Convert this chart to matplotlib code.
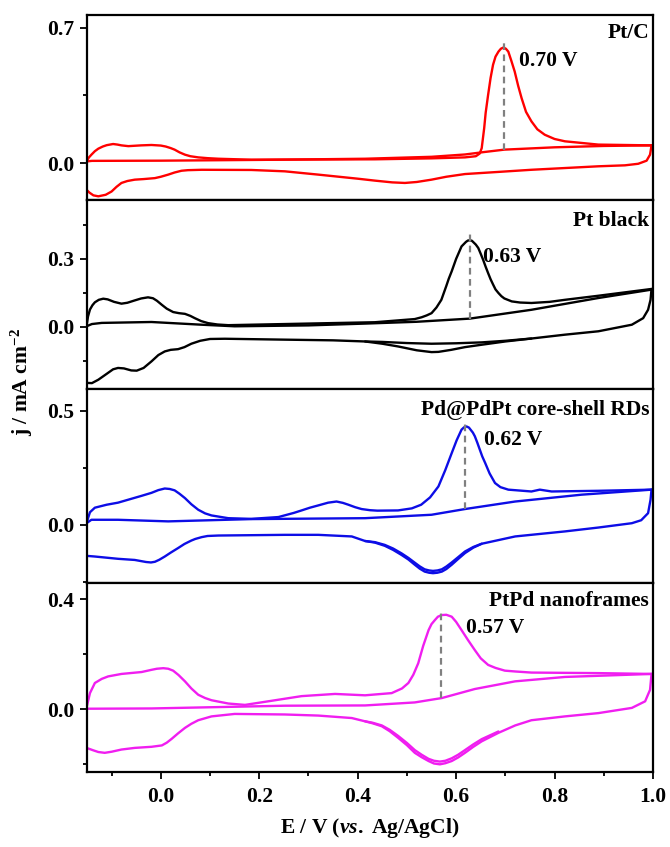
import matplotlib
matplotlib.use("Agg")
import matplotlib.pyplot as plt
from matplotlib.ticker import FixedLocator

plt.rcParams['font.family'] = ['Liberation Serif', 'DejaVu Serif']
plt.rcParams['font.weight'] = 'bold'
plt.rcParams['mathtext.fontset'] = 'custom'
plt.rcParams['mathtext.rm'] = 'Liberation Serif:bold'
plt.rcParams['mathtext.bf'] = 'Liberation Serif:bold'
plt.rcParams['mathtext.it'] = 'Liberation Serif:italic:bold'
plt.rcParams['mathtext.default'] = 'bf'

# ---------------- Data (E in V vs Ag/AgCl, j in mA cm^-2) ----------------
# Panel 1: Pt/C
ptc_fwd1_E = [-0.151, -0.146, -0.141, -0.134, -0.127, -0.118, -0.110, -0.097, -0.088, -0.080, -0.066, -0.040, -0.019, 0.000, 0.010, 0.020, 0.028, 0.038, 0.049, 0.060, 0.076, 0.095, 0.117, 0.184, 0.435, 0.550, 0.618, 0.640, 0.648, 0.652, 0.657, 0.660, 0.665, 0.670, 0.675, 0.680, 0.686, 0.691, 0.696, 0.701, 0.706, 0.712, 0.719, 0.726, 0.733, 0.742, 0.753, 0.765, 0.780, 0.800, 0.821, 0.889, 0.997]
ptc_fwd1_j = [0.009, 0.030, 0.044, 0.062, 0.075, 0.086, 0.093, 0.099, 0.096, 0.092, 0.088, 0.092, 0.094, 0.091, 0.086, 0.078, 0.070, 0.056, 0.044, 0.036, 0.030, 0.026, 0.023, 0.018, 0.020, 0.025, 0.030, 0.036, 0.050, 0.078, 0.181, 0.260, 0.353, 0.440, 0.508, 0.550, 0.576, 0.591, 0.597, 0.591, 0.576, 0.530, 0.473, 0.400, 0.336, 0.265, 0.216, 0.175, 0.147, 0.125, 0.113, 0.096, 0.092]
ptc_fwd2_E = [-0.151, -0.140, 0.000, 0.200, 0.415, 0.550, 0.618, 0.655, 0.698, 0.800, 0.900, 0.997]
ptc_fwd2_j = [0.009, 0.012, 0.013, 0.017, 0.023, 0.033, 0.045, 0.057, 0.070, 0.082, 0.089, 0.092]
ptc_rev_E = [0.997, 0.994, 0.987, 0.970, 0.943, 0.889, 0.821, 0.753, 0.686, 0.618, 0.580, 0.550, 0.520, 0.496, 0.470, 0.435, 0.400, 0.320, 0.252, 0.184, 0.083, 0.055, 0.042, 0.028, 0.015, 0.000, -0.012, -0.035, -0.053, -0.068, -0.080, -0.090, -0.100, -0.112, -0.127, -0.137, -0.145, -0.151, -0.151]
ptc_rev_j = [0.092, 0.044, 0.013, -0.003, -0.011, -0.016, -0.025, -0.034, -0.045, -0.056, -0.070, -0.085, -0.097, -0.102, -0.099, -0.090, -0.080, -0.059, -0.042, -0.035, -0.034, -0.036, -0.039, -0.048, -0.059, -0.070, -0.077, -0.082, -0.085, -0.092, -0.102, -0.122, -0.146, -0.163, -0.171, -0.166, -0.152, -0.137, 0.009]

# Panel 2: Pt black
ptb_fwd1_E = [-0.151, -0.148, -0.144, -0.139, -0.134, -0.126, -0.117, -0.108, -0.095, -0.080, -0.068, -0.055, -0.040, -0.026, -0.016, -0.008, 0.002, 0.012, 0.025, 0.037, 0.049, 0.060, 0.069, 0.082, 0.096, 0.115, 0.137, 0.252, 0.435, 0.516, 0.530, 0.540, 0.550, 0.560, 0.570, 0.580, 0.585, 0.591, 0.600, 0.606, 0.611, 0.620, 0.624, 0.628, 0.632, 0.640, 0.645, 0.650, 0.655, 0.660, 0.665, 0.670, 0.675, 0.680, 0.686, 0.692, 0.698, 0.713, 0.730, 0.753, 0.790, 0.821, 0.889, 0.997]
ptb_fwd1_j = [0.002, 0.045, 0.076, 0.095, 0.108, 0.119, 0.124, 0.121, 0.110, 0.102, 0.106, 0.115, 0.125, 0.130, 0.126, 0.115, 0.097, 0.080, 0.065, 0.060, 0.057, 0.048, 0.038, 0.025, 0.016, 0.010, 0.007, 0.012, 0.020, 0.034, 0.042, 0.050, 0.060, 0.085, 0.119, 0.180, 0.212, 0.245, 0.300, 0.330, 0.355, 0.375, 0.381, 0.382, 0.380, 0.363, 0.348, 0.322, 0.295, 0.265, 0.237, 0.210, 0.187, 0.165, 0.149, 0.135, 0.125, 0.112, 0.107, 0.105, 0.110, 0.119, 0.137, 0.167]
ptb_fwd2_E = [-0.151, -0.140, -0.120, -0.019, 0.083, 0.150, 0.300, 0.415, 0.520, 0.628, 0.753, 0.889, 0.997]
ptb_fwd2_j = [0.002, 0.012, 0.017, 0.021, 0.009, 0.002, 0.006, 0.014, 0.022, 0.036, 0.075, 0.127, 0.164]
ptb_rev1_E = [0.997, 0.995, 0.990, 0.980, 0.957, 0.889, 0.821, 0.753, 0.700, 0.650, 0.618, 0.590, 0.564, 0.550, 0.520, 0.482, 0.450, 0.415, 0.350, 0.252, 0.130, 0.100, 0.080, 0.062, 0.048, 0.035, 0.020, 0.008, -0.005, -0.019, -0.035, -0.049, -0.060, -0.075, -0.087, -0.097, -0.110, -0.127, -0.140, -0.151, -0.151]
ptb_rev1_j = [0.167, 0.119, 0.075, 0.038, 0.009, -0.020, -0.035, -0.052, -0.065, -0.080, -0.090, -0.102, -0.111, -0.112, -0.104, -0.087, -0.075, -0.065, -0.060, -0.057, -0.053, -0.054, -0.062, -0.075, -0.090, -0.099, -0.102, -0.109, -0.125, -0.153, -0.182, -0.194, -0.193, -0.184, -0.182, -0.188, -0.208, -0.234, -0.249, -0.248, 0.002]
ptb_rev2_E = [0.753, 0.700, 0.652, 0.600, 0.550, 0.500, 0.450, 0.415]
ptb_rev2_j = [-0.052, -0.062, -0.069, -0.073, -0.075, -0.072, -0.067, -0.065]

# Panel 3: Pd@PdPt core-shell RDs
pdp_fwd1_E = [-0.151, -0.147, -0.144, -0.134, -0.110, -0.087, -0.039, -0.019, -0.005, 0.008, 0.018, 0.028, 0.038, 0.049, 0.062, 0.076, 0.090, 0.103, 0.137, 0.184, 0.239, 0.270, 0.286, 0.303, 0.320, 0.340, 0.357, 0.370, 0.381, 0.395, 0.408, 0.425, 0.440, 0.482, 0.510, 0.529, 0.547, 0.564, 0.578, 0.591, 0.601, 0.611, 0.616, 0.621, 0.626, 0.630, 0.634, 0.638, 0.643, 0.648, 0.653, 0.659, 0.668, 0.679, 0.690, 0.706, 0.753, 0.770, 0.794, 0.889, 0.997]
pdp_fwd1_j = [0.007, 0.035, 0.055, 0.075, 0.088, 0.097, 0.127, 0.140, 0.152, 0.159, 0.157, 0.151, 0.136, 0.117, 0.090, 0.066, 0.050, 0.041, 0.029, 0.026, 0.034, 0.052, 0.063, 0.075, 0.085, 0.097, 0.102, 0.096, 0.088, 0.077, 0.069, 0.064, 0.062, 0.063, 0.072, 0.088, 0.120, 0.168, 0.240, 0.314, 0.370, 0.417, 0.427, 0.431, 0.426, 0.415, 0.404, 0.388, 0.360, 0.330, 0.300, 0.271, 0.225, 0.183, 0.165, 0.154, 0.146, 0.154, 0.146, 0.149, 0.154]
pdp_fwd2_E = [-0.151, -0.141, -0.087, 0.015, 0.184, 0.415, 0.550, 0.618, 0.720, 0.855, 0.997]
pdp_fwd2_j = [0.007, 0.022, 0.022, 0.015, 0.025, 0.029, 0.044, 0.069, 0.102, 0.132, 0.154]
pdp_rev1_E = [0.997, 0.995, 0.990, 0.976, 0.957, 0.889, 0.821, 0.720, 0.652, 0.635, 0.618, 0.604, 0.591, 0.580, 0.571, 0.562, 0.553, 0.545, 0.536, 0.526, 0.516, 0.503, 0.489, 0.472, 0.455, 0.435, 0.415, 0.388, 0.320, 0.252, 0.117, 0.095, 0.083, 0.070, 0.062, 0.048, 0.035, 0.020, 0.008, -0.003, -0.012, -0.020, -0.030, -0.053, -0.087, -0.134, -0.151, -0.151]
pdp_rev1_j = [0.154, 0.110, 0.051, 0.020, 0.007, -0.012, -0.029, -0.051, -0.083, -0.100, -0.124, -0.150, -0.175, -0.194, -0.205, -0.210, -0.212, -0.210, -0.205, -0.192, -0.175, -0.152, -0.132, -0.110, -0.092, -0.078, -0.071, -0.051, -0.044, -0.044, -0.047, -0.049, -0.054, -0.062, -0.069, -0.084, -0.102, -0.122, -0.139, -0.153, -0.162, -0.165, -0.163, -0.154, -0.149, -0.139, -0.136, 0.007]
pdp_rev2_E = [0.652, 0.635, 0.618, 0.604, 0.591, 0.580, 0.571, 0.562, 0.553, 0.545, 0.536, 0.526, 0.516, 0.503, 0.489, 0.472, 0.455, 0.435, 0.415]
pdp_rev2_j = [-0.083, -0.097, -0.117, -0.142, -0.165, -0.183, -0.195, -0.200, -0.202, -0.200, -0.195, -0.182, -0.166, -0.145, -0.125, -0.104, -0.088, -0.076, -0.071]

# Panel 4: PtPd nanoframes
ppn_fwd1_E = [-0.151, -0.147, -0.144, -0.134, -0.120, -0.107, -0.080, -0.039, -0.019, -0.008, 0.005, 0.015, 0.025, 0.036, 0.049, 0.062, 0.076, 0.090, 0.103, 0.137, 0.171, 0.218, 0.286, 0.354, 0.415, 0.469, 0.490, 0.503, 0.513, 0.523, 0.533, 0.544, 0.550, 0.557, 0.563, 0.571, 0.580, 0.591, 0.600, 0.611, 0.624, 0.638, 0.650, 0.665, 0.680, 0.699, 0.720, 0.753, 0.889, 0.997]
ppn_fwd1_j = [0.004, 0.035, 0.058, 0.095, 0.110, 0.119, 0.128, 0.135, 0.143, 0.147, 0.149, 0.147, 0.140, 0.124, 0.101, 0.075, 0.052, 0.040, 0.032, 0.020, 0.015, 0.028, 0.047, 0.055, 0.050, 0.058, 0.075, 0.095, 0.125, 0.167, 0.230, 0.288, 0.310, 0.325, 0.337, 0.343, 0.344, 0.337, 0.318, 0.288, 0.252, 0.215, 0.185, 0.161, 0.150, 0.140, 0.137, 0.133, 0.131, 0.128]
ppn_fwd2_E = [-0.151, -0.019, 0.117, 0.252, 0.415, 0.516, 0.571, 0.638, 0.720, 0.821, 0.997]
ppn_fwd2_j = [0.001, 0.002, 0.007, 0.012, 0.013, 0.024, 0.040, 0.073, 0.101, 0.117, 0.128]
ppn_rev1_E = [0.997, 0.994, 0.984, 0.957, 0.889, 0.821, 0.753, 0.720, 0.686, 0.652, 0.635, 0.618, 0.604, 0.591, 0.578, 0.567, 0.555, 0.544, 0.530, 0.516, 0.500, 0.482, 0.465, 0.449, 0.430, 0.415, 0.388, 0.320, 0.252, 0.150, 0.103, 0.076, 0.062, 0.049, 0.035, 0.022, 0.012, 0.002, -0.019, -0.053, -0.080, -0.100, -0.114, -0.127, -0.137, -0.151, -0.151]
ppn_rev1_j = [0.128, 0.070, 0.028, 0.004, -0.015, -0.027, -0.041, -0.060, -0.087, -0.118, -0.138, -0.160, -0.177, -0.190, -0.198, -0.202, -0.199, -0.190, -0.176, -0.160, -0.132, -0.105, -0.081, -0.063, -0.052, -0.045, -0.033, -0.024, -0.020, -0.018, -0.027, -0.041, -0.054, -0.069, -0.089, -0.109, -0.123, -0.133, -0.138, -0.142, -0.148, -0.156, -0.160, -0.157, -0.151, -0.142, 0.004]
ppn_rev2_E = [0.686, 0.652, 0.635, 0.618, 0.604, 0.591, 0.578, 0.567, 0.555, 0.544, 0.530, 0.516, 0.500, 0.482, 0.465, 0.449, 0.430, 0.415]
ppn_rev2_j = [-0.082, -0.110, -0.129, -0.150, -0.167, -0.180, -0.189, -0.192, -0.189, -0.182, -0.167, -0.150, -0.124, -0.098, -0.076, -0.060, -0.050, -0.045]

panel_names = ["Pt/C", "Pt black", "Pd@PdPt core-shell RDs", "PtPd nanoframes"]
peak_labels = ["0.70 V", "0.63 V", "0.62 V", "0.57 V"]
peak_E = [0.698, 0.628, 0.619, 0.569]
dash_j_bottom = [0.070, 0.036, 0.068, 0.040]
dash_j_top = [0.628, 0.415, 0.446, 0.361]
colors = ["#ff0000", "#000000", "#0d0de6", "#f01ef0"]
y_limits = [(-0.19, 0.765), (-0.275, 0.56), (-0.255, 0.595), (-0.23, 0.46)]
y_major = [[0.0, 0.7], [0.0, 0.3], [0.0, 0.5], [0.0, 0.4]]
y_minor = [[0.35], [-0.15, 0.15, 0.45], [-0.25, 0.25], [-0.2, 0.2]]
x_major = [0.0, 0.2, 0.4, 0.6, 0.8, 1.0]
x_minor = [-0.1, 0.1, 0.3, 0.5, 0.7, 0.9]

curves = [
    [(ptc_fwd1_E, ptc_fwd1_j), (ptc_fwd2_E, ptc_fwd2_j), (ptc_rev_E, ptc_rev_j)],
    [(ptb_fwd1_E, ptb_fwd1_j), (ptb_fwd2_E, ptb_fwd2_j), (ptb_rev1_E, ptb_rev1_j), (ptb_rev2_E, ptb_rev2_j)],
    [(pdp_fwd1_E, pdp_fwd1_j), (pdp_fwd2_E, pdp_fwd2_j), (pdp_rev1_E, pdp_rev1_j), (pdp_rev2_E, pdp_rev2_j)],
    [(ppn_fwd1_E, ppn_fwd1_j), (ppn_fwd2_E, ppn_fwd2_j), (ppn_rev1_E, ppn_rev1_j), (ppn_rev2_E, ppn_rev2_j)],
]
label_pos = [(0.728, 0.525), (0.655, 0.308), (0.657, 0.373), (0.621, 0.295)]
name_y = [0.672, 0.466, 0.501, 0.395]

# ---------------- Figure ----------------
W, H = 670, 847
fig = plt.figure(figsize=(W / 100, H / 100), dpi=100)
left_px, right_px = 87, 653
edges_px = [15, 200, 389, 583, 772]

fs = 15.5
for i in range(4):
    top, bot = edges_px[i], edges_px[i + 1]
    ax = fig.add_axes([left_px / W, 1 - bot / H, (right_px - left_px) / W, (bot - top) / H])
    c = colors[i]
    for (E, j) in curves[i]:
        ax.plot(E, j, color=c, lw=1.7, solid_joinstyle='round', solid_capstyle='round')
    ax.plot([peak_E[i], peak_E[i]], [dash_j_bottom[i], dash_j_top[i]], color='#808080',
            lw=1.6, ls=(0, (3, 2)), zorder=3)
    ax.set_xlim(-0.15, 1.0)
    ax.set_ylim(*y_limits[i])
    ax.yaxis.set_major_locator(FixedLocator(y_major[i]))
    ax.yaxis.set_minor_locator(FixedLocator(y_minor[i]))
    ax.set_yticklabels([f"{v:.1f}" for v in y_major[i]])
    ax.xaxis.set_major_locator(FixedLocator(x_major))
    ax.xaxis.set_minor_locator(FixedLocator(x_minor))
    for s in ax.spines.values():
        s.set_linewidth(1.6)
    ax.tick_params(axis='y', which='major', direction='out', length=5, width=1.3, labelsize=fs, left=True, right=False, pad=4)
    ax.tick_params(axis='y', which='minor', direction='out', length=3, width=1.3, left=True, right=False)
    if i == 3:
        ax.set_xticklabels([f"{v:.1f}" for v in x_major])
        ax.tick_params(axis='x', which='major', direction='out', length=5, width=1.3, labelsize=fs, top=False, pad=6)
        ax.tick_params(axis='x', which='minor', direction='out', length=3, width=1.3, top=False)
    else:
        ax.tick_params(axis='x', which='both', bottom=False, top=False, labelbottom=False)
    for lab in ax.get_xticklabels() + ax.get_yticklabels():
        lab.set_fontweight('bold')
    ax.text(0.992, name_y[i], panel_names[i], ha='right', va='center', fontsize=fs, fontweight='bold')
    ax.text(label_pos[i][0], label_pos[i][1], peak_labels[i], ha='left', va='center', fontsize=fs, fontweight='bold')

fig.text(22 / W, 1 - 382 / H, r'j / mA cm$^{-2}$', rotation=90, ha='center', va='center', fontsize=fs, fontweight='bold')
fig.text(370 / W, 1 - 828 / H, r'E / V ($\mathit{vs.}$ Ag/AgCl)', ha='center', va='center', fontsize=fs, fontweight='bold')

fig.savefig("out.png", dpi=100)
